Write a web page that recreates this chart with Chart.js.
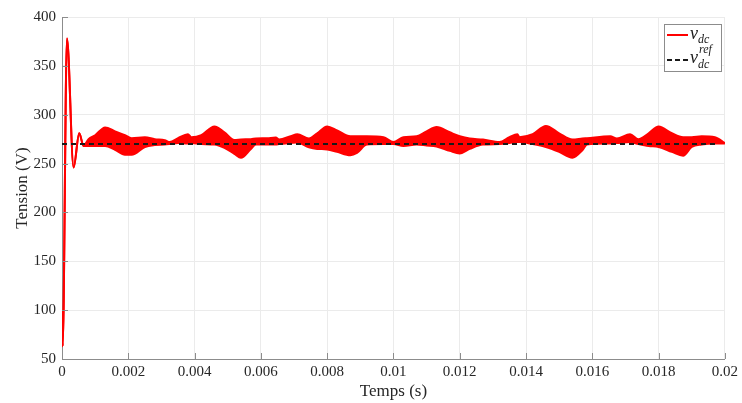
<!DOCTYPE html>
<html>
<head>
<meta charset="utf-8">
<script src="https://cdn.jsdelivr.net/npm/chart.js@4.4.1/dist/chart.umd.min.js"></script>
<style>
  html, body { margin: 0; padding: 0; background: #fff; }
  #wrap { width: 742px; height: 403px; }
</style>
</head>
<body>
<div id="wrap"><canvas id="myChart" width="742" height="403"></canvas></div>
<script>
// time axis (s)
const times = [0, 0.00002, 0.00015, 0.00035, 0.00052, 0.00065, 0.0008, 0.001, 0.0013, 0.0016,
  0.0019, 0.0021, 0.0025, 0.0028, 0.0031, 0.00325, 0.0035, 0.0038, 0.0039, 0.0042,
  0.0046, 0.0049, 0.0052, 0.0054, 0.0057, 0.00585, 0.0062, 0.00645, 0.00655, 0.0069,
  0.0071, 0.00745, 0.0077, 0.008, 0.0083, 0.0087, 0.0089, 0.0092, 0.0097, 0.01,
  0.0103, 0.0107, 0.011, 0.0113, 0.0117, 0.012, 0.0123, 0.0127, 0.0132, 0.0135,
  0.01374, 0.0138, 0.0142, 0.0146, 0.015, 0.0154, 0.0157, 0.01584, 0.01654, 0.01674,
  0.01714, 0.01739, 0.0177, 0.018, 0.0184, 0.01874, 0.019, 0.0193, 0.0197, 0.02];
// upper envelope of v_dc (V)
const vdcUpper = [100, 63, 378, 246, 281, 268, 275, 279, 287, 283,
  279, 276, 277, 275, 274, 272, 276, 280, 277, 279,
  288, 282, 274, 274.6, 275, 275.6, 276, 276.6, 274.6, 278,
  280, 275.6, 281, 288, 284, 278, 278, 278, 277, 272,
  277, 278, 283, 287.5, 282, 278, 275.6, 274.6, 272, 277,
  280, 277, 280, 288.5, 281, 274.6, 275.6, 276, 278, 275.6,
  280, 275, 281, 288, 281, 277, 277, 278, 277, 271];
// lower envelope of v_dc (V)
const vdcLower = [100, 63, 378, 246, 281, 268, 268, 268, 268, 264,
  259, 259, 267, 269, 269.5, 270, 271, 270.5, 271, 270,
  269.5, 266, 260, 256, 265, 269.5, 269.5, 269.5, 270, 271,
  271.5, 266.6, 265, 264.5, 262, 258.6, 261, 269.5, 270, 270,
  268, 269.5, 268.5, 267.5, 263, 260.3, 265, 269.5, 270, 271,
  272, 272, 270, 267, 262, 256, 263.7, 269.5, 270.5, 271,
  272, 270, 268, 267, 262, 258, 267, 269.5, 270.5, 270.5];
// reference voltage
const refTimes = [0, 0.0198];
const vdcRef = [270, 270];
// tick labels
const xTicks = [0, 0.002, 0.004, 0.006, 0.008, 0.01, 0.012, 0.014, 0.016, 0.018, 0.02];
const xTickLabels = ['0', '0.002', '0.004', '0.006', '0.008', '0.01', '0.012', '0.014', '0.016', '0.018', '0.02'];
const yTicks = [50, 100, 150, 200, 250, 300, 350, 400];

const serif = '"Liberation Serif", "DejaVu Serif", serif';

function pts(xs, ys) {
  return xs.map((x, i) => ({ x: x, y: ys[i] }));
}

// inward tick marks + legend with sub/superscripts
const decor = {
  id: 'decor',
  afterDraw(chart) {
    const ctx = chart.ctx;
    const xs = chart.scales.x, ys = chart.scales.y;
    const a = chart.chartArea;
    ctx.save();
    ctx.strokeStyle = '#8c8c8c';
    ctx.lineWidth = 1;
    ctx.beginPath();
    xTicks.forEach(v => {
      const px = Math.round(xs.getPixelForValue(v)) + 0.5;
      ctx.moveTo(px, a.bottom); ctx.lineTo(px, a.bottom - 6);
    });
    yTicks.forEach(v => {
      const py = Math.round(ys.getPixelForValue(v)) + 0.5;
      ctx.moveTo(a.left, py); ctx.lineTo(a.left + 6, py);
    });
    ctx.stroke();

    // legend box
    const bx = 664.5, by = 24.5, bw = 57, bh = 47;
    ctx.fillStyle = '#fff';
    ctx.fillRect(bx, by, bw, bh);
    ctx.strokeStyle = '#8c8c8c';
    ctx.strokeRect(bx, by, bw, bh);

    ctx.strokeStyle = '#ff0000';
    ctx.lineWidth = 2;
    ctx.beginPath(); ctx.moveTo(667, 35); ctx.lineTo(688, 35); ctx.stroke();
    ctx.strokeStyle = '#1a1a1a';
    ctx.setLineDash([5, 3]);
    ctx.beginPath(); ctx.moveTo(667, 60); ctx.lineTo(689, 60); ctx.stroke();
    ctx.setLineDash([]);

    ctx.fillStyle = '#1a1a1a';
    ctx.textBaseline = 'alphabetic';
    ctx.textAlign = 'left';
    ctx.font = 'italic 18px ' + serif;
    ctx.fillText('v', 690, 39);
    ctx.fillText('v', 690, 63);
    ctx.font = 'italic 12px ' + serif;
    ctx.fillText('dc', 698, 43);
    ctx.fillText('dc', 698, 68);
    ctx.fillText('ref', 699, 53);
    ctx.restore();
  }
};

const ctx = document.getElementById('myChart').getContext('2d');
const myChart = new Chart(ctx, {
  type: 'line',
  data: {
    datasets: [{
      label: 'vdc',
      data: pts(times, vdcUpper),
      borderColor: '#ff0000',
      borderWidth: 2,
      pointRadius: 0,
      cubicInterpolationMode: 'monotone',
      fill: false,
      order: 2
    }, {
      label: 'vdc low',
      data: pts(times, vdcLower),
      borderColor: '#ff0000',
      backgroundColor: '#ff0000',
      borderWidth: 2,
      pointRadius: 0,
      cubicInterpolationMode: 'monotone',
      fill: '-1',
      order: 1
    }, {
      label: 'vdc ref',
      data: pts(refTimes, vdcRef),
      borderColor: '#1a1a1a',
      borderWidth: 2,
      borderDash: [5, 4],
      pointRadius: 0,
      fill: false,
      order: -1
    }]
  },
  options: {
    responsive: false,
    animation: false,
    layout: { padding: { left: 0, right: 13, top: 17, bottom: 0 } },
    plugins: {
      legend: { display: false },
      tooltip: { enabled: false }
    },
    scales: {
      x: {
        type: 'linear',
        min: 0,
        max: 0.02,
        afterBuildTicks: s => { s.ticks = xTicks.map(v => ({ value: v })); },
        afterFit: s => { s.height = 44; },
        ticks: {
          callback: (v) => xTickLabels[xTicks.indexOf(v)] ?? '',
          font: { family: serif, size: 15 },
          color: '#262626',
          padding: 4,
          maxRotation: 0
        },
        grid: { color: '#ebebeb', drawTicks: false },
        border: { color: '#8c8c8c' },
        title: {
          display: true,
          text: 'Temps (s)',
          font: { family: serif, size: 17 },
          color: '#262626',
          padding: { top: 0, bottom: 1 }
        }
      },
      y: {
        min: 50,
        max: 400,
        afterBuildTicks: s => { s.ticks = yTicks.map(v => ({ value: v })); },
        afterFit: s => { s.width = 62; },
        ticks: {
          font: { family: serif, size: 15 },
          color: '#262626',
          padding: 6
        },
        grid: { color: '#ebebeb', drawTicks: false },
        border: { color: '#8c8c8c' },
        title: {
          display: true,
          text: 'Tension (V)',
          font: { family: serif, size: 17 },
          color: '#262626',
          padding: { top: 12, bottom: 0 }
        }
      }
    }
  },
  plugins: [decor]
});
</script>
</body>
</html>
